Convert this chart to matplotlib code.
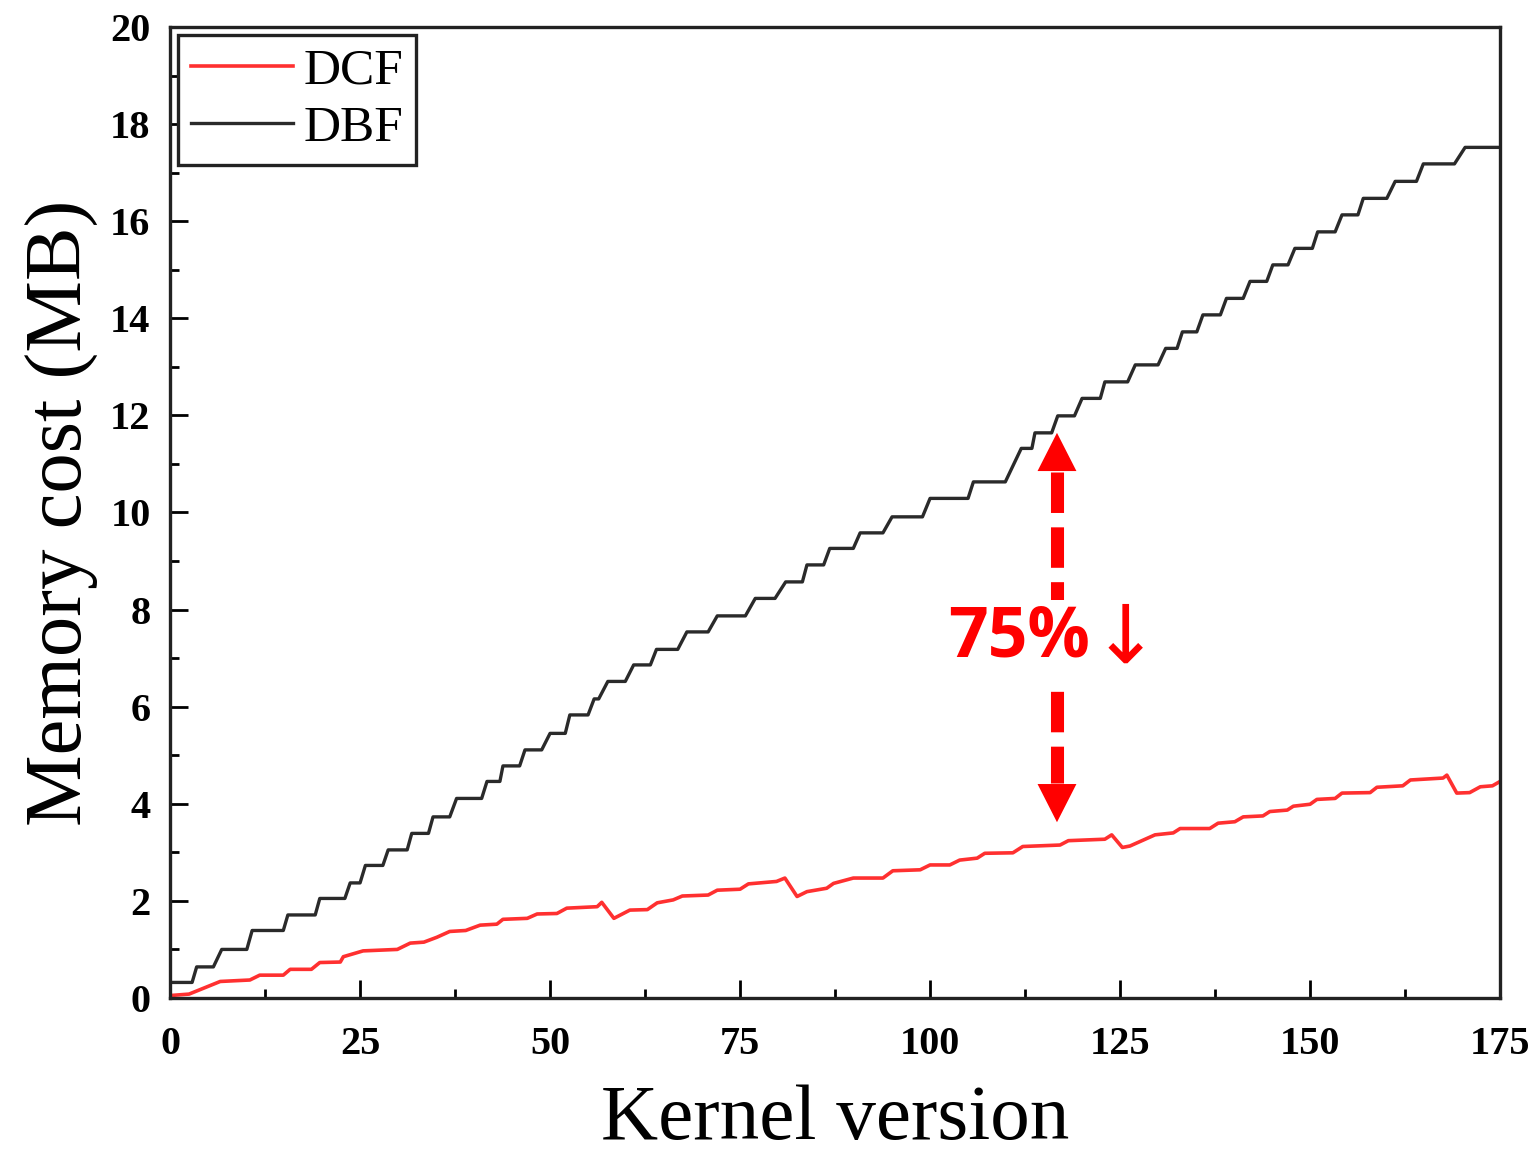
import numpy as np
import matplotlib.pyplot as plt
from matplotlib.ticker import MultipleLocator

# DBF memory cost (MB) – corner points of the staircase
dbf_x = [0, 2.9, 3.5, 5.7, 6.8, 10.1, 10.8, 14.9, 15.5, 19.1, 19.7, 23.0, 23.7, 25.0,
         25.7, 28.0, 28.7, 31.2, 31.8, 34.0, 34.6, 36.8, 37.7, 41.0, 41.7, 43.4, 43.8, 46.0,
         46.7, 48.9, 50.0, 52.0, 52.6, 55.0, 55.8, 56.4, 57.6, 59.9, 61.0, 63.2, 64.0, 66.8,
         68.0, 70.8, 72.0, 75.7, 77.0, 79.6, 81.0, 83.2, 83.8, 86.0, 86.8, 89.9, 90.8, 93.8,
         95.0, 99.0, 100.0, 105.0, 105.7, 109.9, 112.0, 113.4, 113.8, 116.0, 116.8, 119.0,
         120.0, 122.4, 123.0, 126.0, 127.0, 130.0, 131.0, 132.5, 133.2, 135.1, 135.9, 138.2,
         139.0, 141.2, 142.1, 144.3, 145.1, 147.1, 148.0, 150.3, 151.0, 153.3, 154.2, 156.3,
         157.0, 160.1, 161.2, 164.0, 164.9, 169.0, 170.4, 175.0]
dbf_y = [0.32, 0.32, 0.64, 0.64, 1.00, 1.00, 1.39, 1.39, 1.71, 1.71, 2.05, 2.05, 2.37, 2.37,
         2.73, 2.73, 3.05, 3.05, 3.39, 3.39, 3.73, 3.73, 4.11, 4.11, 4.46, 4.46, 4.78, 4.78,
         5.11, 5.11, 5.45, 5.45, 5.83, 5.83, 6.16, 6.16, 6.52, 6.52, 6.86, 6.86, 7.18, 7.18,
         7.54, 7.54, 7.87, 7.87, 8.23, 8.23, 8.57, 8.57, 8.92, 8.92, 9.26, 9.26, 9.58, 9.58,
         9.91, 9.91, 10.29, 10.29, 10.63, 10.63, 11.32, 11.32, 11.64, 11.64, 11.99, 11.99,
         12.35, 12.35, 12.69, 12.69, 13.04, 13.04, 13.38, 13.38, 13.72, 13.72, 14.07, 14.07,
         14.41, 14.41, 14.76, 14.76, 15.10, 15.10, 15.44, 15.44, 15.78, 15.78, 16.13, 16.13,
         16.47, 16.47, 16.82, 16.82, 17.18, 17.18, 17.52, 17.52]

# DCF memory cost (MB)
dcf_x = [0, 2.5, 6.6, 10.5, 11.8, 14.9, 15.8, 18.6, 19.7, 22.4, 22.8, 25.4, 29.9, 31.6,
         33.4, 35.1, 36.8, 38.9, 40.8, 43.0, 43.8, 47.0, 48.3, 50.9, 52.2, 56.2, 56.8, 58.4,
         60.5, 62.8, 64.1, 66.2, 67.4, 70.8, 72.0, 75.0, 76.1, 79.8, 80.9, 82.5, 83.8, 86.4,
         87.3, 89.9, 93.8, 95.1, 98.7, 100.0, 102.6, 103.9, 106.2, 107.2, 110.9, 112.2, 117.1,
         118.2, 123.0, 123.9, 125.3, 126.3, 129.6, 132.0, 132.9, 136.8, 137.9, 140.1, 141.2,
         143.8, 144.7, 147.0, 147.8, 150.0, 150.9, 153.3, 154.2, 157.9, 158.8, 162.2, 163.2,
         167.5, 168.0, 169.3, 171.0, 172.4, 174.0, 175.0]
dcf_y = [0.05, 0.08, 0.34, 0.37, 0.47, 0.47, 0.59, 0.59, 0.73, 0.74, 0.85, 0.97, 1.00, 1.13,
         1.15, 1.25, 1.37, 1.39, 1.50, 1.52, 1.62, 1.64, 1.73, 1.74, 1.85, 1.88, 1.97, 1.64,
         1.81, 1.82, 1.96, 2.02, 2.10, 2.12, 2.22, 2.24, 2.35, 2.40, 2.47, 2.09, 2.19, 2.26,
         2.36, 2.47, 2.47, 2.62, 2.64, 2.74, 2.74, 2.84, 2.88, 2.98, 2.99, 3.12, 3.15,
         3.24, 3.27, 3.36, 3.10, 3.13, 3.36, 3.40, 3.49, 3.49, 3.60, 3.63, 3.73,
         3.75, 3.84, 3.87, 3.95, 3.99, 4.09, 4.11, 4.22, 4.23, 4.34, 4.37, 4.49,
         4.53, 4.59, 4.22, 4.23, 4.35, 4.37, 4.46]

# annotation: double arrow between the curves
arrow_x = 116.7
arrow_top = 11.64
arrow_bottom = 3.62
head_len = 0.8
label_text = "75%"
label_x = 121.0
label_y = 7.4

plt.rcParams['font.family'] = ['Liberation Serif', 'DejaVu Serif']

fig = plt.figure(figsize=(15.39, 11.63), dpi=100)
ax = fig.add_axes([0.1105, 0.1419, 0.8642, 0.8349])

ax.plot(dcf_x, dcf_y, color='#ff3030', lw=2.6, label='DCF')
ax.plot(dbf_x, dbf_y, color='#2a2a2a', lw=2.4, label='DBF')

ax.set_xlim(0, 175)
ax.set_ylim(0, 20)
ax.xaxis.set_major_locator(MultipleLocator(25))
ax.xaxis.set_minor_locator(MultipleLocator(12.5))
ax.yaxis.set_major_locator(MultipleLocator(2))
ax.yaxis.set_minor_locator(MultipleLocator(1))
ax.tick_params(which='both', direction='in', width=2, top=False, right=False,
               labelsize=29)
ax.tick_params(axis='x', which='both', pad=20)
ax.tick_params(axis='y', which='both', pad=14)
ax.tick_params(which='major', length=13)
ax.tick_params(which='minor', length=6.5)
for lab in ax.get_xticklabels() + ax.get_yticklabels():
    lab.set_fontweight('bold')
for sp in ax.spines.values():
    sp.set_linewidth(2.4)
    sp.set_color('#222222')

ax.set_xlabel('Kernel version', fontsize=57, labelpad=16)
ax.set_ylabel('Memory cost (MB)', fontsize=58, labelpad=8)

leg = ax.legend(loc='upper left', fontsize=37, handlelength=2.0, handletextpad=0.2,
                borderaxespad=0.15, borderpad=0.25, labelspacing=0.2, fancybox=False,
                framealpha=1, edgecolor='#222222')
leg.get_frame().set_linewidth(2.4)

# dashed shaft + solid heads
ax.plot([arrow_x, arrow_x], [arrow_top - head_len, arrow_bottom + head_len], color='red',
        lw=9.4, dashes=(3.1, 1.1), solid_capstyle='butt', dash_capstyle='butt')
for tip, base in [(arrow_top, arrow_top - head_len), (arrow_bottom, arrow_bottom + head_len)]:
    ax.annotate('', xy=(arrow_x, tip), xytext=(arrow_x, base),
                arrowprops=dict(arrowstyle='-|>,head_length=2.75,head_width=1.4',
                                color='red', lw=0, shrinkA=0, shrinkB=0, mutation_scale=10))
ax.text(label_x, label_y, label_text, color='red', fontsize=50, fontweight='bold',
        family=['Open Sans', 'DejaVu Sans'], ha='right', va='center',
        bbox=dict(facecolor='white', edgecolor='none', pad=3))
ax.text(label_x + 0.3, label_y - 0.05, '↓', color='red', fontsize=58,
        family=['DejaVu Sans'], ha='left', va='center')

fig.savefig('out.png', dpi=100)
